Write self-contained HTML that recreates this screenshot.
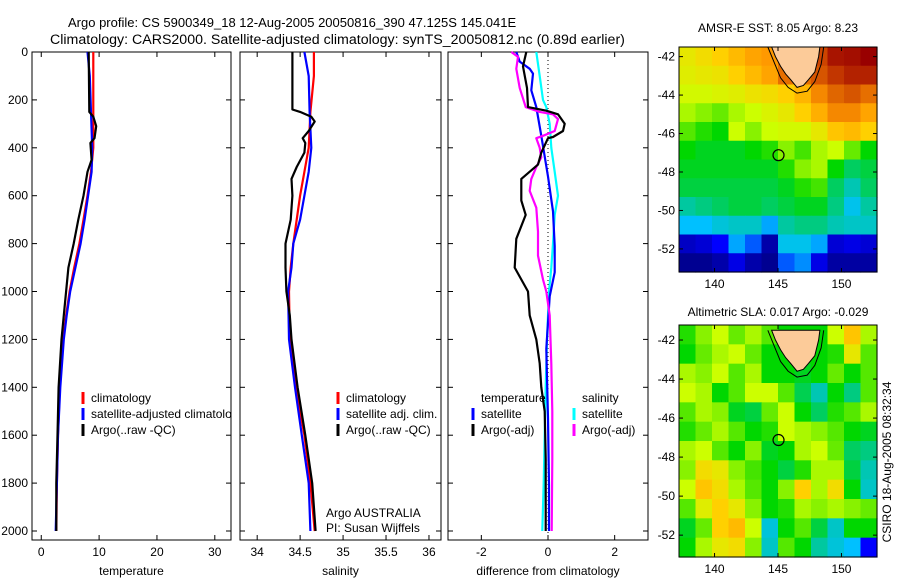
<!DOCTYPE html>
<html><head><meta charset="utf-8"><style>
html,body{margin:0;padding:0;background:#fff}
svg{display:block;font-family:"Liberation Sans",sans-serif}
</style></head><body>
<svg id="c" width="900" height="580" viewBox="0 0 900 580">
<defs><clipPath id="p1clip"><rect x="32" y="52" width="199" height="488"/></clipPath></defs>
<text x="68" y="27" font-size="13">Argo profile: CS 5900349_18 12-Aug-2005 20050816_390 47.125S 145.041E</text>
<text x="50" y="44" font-size="14.2">Climatology: CARS2000. Satellite-adjusted climatology: synTS_20050812.nc (0.89d earlier)</text>
<g id="g"></g>
</svg>
<script>
// ---------- data ----------
const tDepthClim=[0,100,400,500,600,700,800,900,1000,1100,1200,1400,1600,1800,2000];
const tClim=[9.0,9.0,9.0,8.6,8.0,7.3,6.6,5.7,4.9,4.3,3.8,3.2,2.9,2.7,2.6];
const tSat=[8.0,8.4,8.8,8.7,8.1,7.5,6.8,5.9,5.0,4.4,3.9,3.3,2.9,2.7,2.5];
const tDepthArgo=[0,250,270,310,360,380,450,500,600,700,800,900,1000,1100,1200,1400,1600,1800,2000];
const tArgo=[8.2,8.3,9.0,9.5,9.2,8.5,8.7,8.0,7.3,6.4,5.6,4.7,4.3,3.9,3.5,3.0,2.8,2.6,2.6];

const sDepth=[0,100,250,400,500,600,700,800,900,1000,1200,1400,1600,1800,2000];
const sClim=[34.66,34.66,34.62,34.6,34.55,34.5,34.46,34.42,34.39,34.37,34.38,34.45,34.55,34.62,34.67];
const sSat=[34.55,34.6,34.61,34.63,34.6,34.55,34.5,34.42,34.4,34.36,34.37,34.44,34.52,34.6,34.62];
const sDepthArgo=[0,240,250,270,290,330,360,380,420,480,530,600,700,800,900,1000,1100,1200,1400,1600,1800,2000];
const sArgo=[34.41,34.41,34.5,34.63,34.67,34.6,34.53,34.56,34.55,34.46,34.4,34.41,34.39,34.33,34.33,34.34,34.38,34.4,34.47,34.56,34.64,34.68];

const dTSatDepth=[0,40,70,90,160,230,350,520,665,810,920,1020,1240,1530,1810,2000];
const dTSat=[-0.95,-0.85,-0.55,-0.45,-0.5,-0.35,-0.2,0,0.15,0.2,0.2,0.05,-0.05,0,0.03,0.03];
const dSSatDepth=[0,100,200,230,300,400,500,600,680,800,900,1000,1200,1400,1600,1800,2000];
const dSSat=[-0.35,-0.25,-0.15,-0.05,0.05,0.1,0.2,0.3,0.2,0.15,0.1,0.03,-0.03,-0.07,-0.1,-0.13,-0.17];
const dSArgoDepth=[0,20,70,150,230,250,260,280,330,350,360,400,440,480,530,580,650,750,850,950,1000,1100,1300,1500,1700,2000];
const dSArgo=[-1.1,-0.9,-0.95,-0.85,-0.67,-0.25,0.15,0.3,0.2,-0.15,-0.35,-0.25,-0.2,-0.35,-0.5,-0.55,-0.35,-0.3,-0.3,-0.15,-0.05,0.05,0.1,0.13,0.13,0.11];
const dTArgoDepth=[0,60,150,230,245,260,300,330,355,360,420,470,530,620,680,780,900,1000,1100,1200,1300,1400,1500,1700,2000];
const dTArgo=[-0.65,-0.75,-0.63,-0.6,-0.05,0.3,0.5,0.45,0.15,0,-0.2,-0.3,-0.8,-0.8,-0.67,-0.95,-1.0,-0.6,-0.55,-0.35,-0.25,-0.2,-0.1,-0.07,-0.07];

const depthTicks=[0,200,400,600,800,1000,1200,1400,1600,1800,2000];
const tTicks=[0,10,20,30];
const sTicks=[34,34.5,35,35.5,36];
const dTicks=[-2,0,2];
const lonTicks=[140,145,150];
const latTicks=[-42,-44,-46,-48,-50,-52];
const argoLon=145.041, argoLat=-47.125;

const sstGrid=[
[.66,.68,.7,.74,.78,.8,.85,.85,.9,.97,.98,1],
[.65,.66,.67,.7,.74,.78,.85,.85,.88,.92,.95,.95],
[.63,.63,.64,.65,.67,.68,.7,.75,.82,.86,.88,.85],
[.6,.58,.56,.6,.62,.64,.66,.7,.76,.82,.82,.78],
[.55,.52,.5,.62,.58,.62,.63,.63,.66,.72,.74,.7],
[.5,.48,.48,.48,.5,.52,.58,.54,.6,.62,.56,.5],
[.48,.48,.48,.48,.48,.48,.52,.58,.6,.5,.44,.46],
[.46,.46,.46,.46,.46,.46,.48,.52,.54,.44,.38,.44],
[.4,.42,.44,.46,.46,.44,.46,.48,.48,.42,.32,.4],
[.3,.3,.34,.36,.36,.28,.4,.42,.42,.38,.36,.36],
[.08,.1,.15,.28,.22,.05,.32,.32,.28,.1,.12,.1],
[.02,.02,.05,.12,.05,.02,.22,.26,.12,.04,.04,.04]];
const slaGrid=[
[.52,.58,.62,.56,.6,.55,.5,.5,.5,.62,.72,.6],
[.5,.56,.6,.62,.56,.5,.5,.5,.5,.52,.66,.55],
[.6,.58,.62,.55,.6,.5,.5,.48,.5,.56,.5,.55],
[.62,.6,.5,.55,.62,.62,.55,.45,.38,.5,.42,.55],
[.55,.6,.58,.48,.46,.56,.62,.5,.44,.52,.55,.6],
[.52,.56,.6,.55,.5,.52,.62,.6,.58,.55,.5,.48],
[.6,.62,.55,.5,.58,.48,.5,.6,.62,.56,.44,.42],
[.58,.68,.66,.58,.54,.5,.46,.52,.6,.6,.46,.38],
[.62,.72,.68,.6,.55,.5,.58,.7,.6,.68,.5,.36],
[.55,.65,.7,.66,.58,.5,.52,.6,.58,.6,.58,.56],
[.48,.56,.7,.74,.62,.34,.5,.55,.46,.36,.5,.5],
[.5,.6,.66,.68,.58,.36,.55,.5,.4,.34,.3,.15]];

// ---------- helpers ----------
const NS="http://www.w3.org/2000/svg";
const G=document.getElementById('g');
function el(tag,attrs,parent,txt){const e=document.createElementNS(NS,tag);for(const k in attrs)e.setAttribute(k,attrs[k]);if(txt!==undefined)e.textContent=txt;(parent||G).appendChild(e);return e;}
function lin(d0,d1,r0,r1){return v=>r0+(v-d0)*(r1-r0)/(d1-d0);}
const TOP=52, BOT=540;
const yD=lin(0,2000,52,531);

function panel(name,x0,x1,dmin,dmax,ticks,xlabel,showY){
  const xs=lin(dmin,dmax,x0,x1);
  const g=el('g',{});
  
  
  const r=el('rect',{x:x0,y:TOP,width:x1-x0,height:BOT-TOP,fill:'none',stroke:'#000','stroke-width':1},g);
  
  
  depthTicks.forEach(d=>{
    const y=yD(d);
    el('line',{x1:x0,x2:x0+5,y1:y,y2:y,stroke:'#000'},g);
    el('line',{x1:x1,x2:x1-5,y1:y,y2:y,stroke:'#000'},g);
    if(showY){const t=el('text',{x:x0-4,y:y+4,'font-size':12,'text-anchor':'end'},g,String(d));
      
      }
  });
  ticks.forEach(v=>{
    const x=xs(v);
    el('line',{x1:x,x2:x,y1:TOP,y2:TOP+5,stroke:'#000'},g);
    el('line',{x1:x,x2:x,y1:BOT,y2:BOT-5,stroke:'#000'},g);
    const t=el('text',{x:x,y:BOT+16,'font-size':12,'text-anchor':'middle'},g,String(v));
    
    
  });
  const xl=el('text',{x:(x0+x1)/2,y:BOT+35,'font-size':12,'text-anchor':'middle'},g,xlabel);
  
  
  return xs;
}
function line(xs,depths,vals,color,name){
  const pts=depths.map((d,i)=>xs(vals[i]).toFixed(1)+','+yD(d).toFixed(1)).join(' ');
  const p=el('polyline',{points:pts,fill:'none',stroke:color,'stroke-width':2.2,'stroke-linejoin':'round'});
  
  
}
function legend(x,y,color,label,name,parent){
  const m=el('rect',{x:x-1.5,y:y-10,width:3,height:12,fill:color},parent);
  
  
  const t=el('text',{x:x+8,y:y,'font-size':12},parent||G,label);
  
  
}

// panel 1
const x1s=panel('temperature-panel',32,231,-1.6,32.8,tTicks,'temperature',true);
line(x1s,tDepthClim,tClim,'#ff0000','temp-climatology-line');
line(x1s,tDepthClim,tSat,'#0000ff','temp-satellite-line');
line(x1s,tDepthArgo,tArgo,'#000000','temp-argo-line');
const lg1=el('g',{'clip-path':'url(#p1clip)'});


legend(83,402,'#ff0000','climatology','legend-climatology',lg1);
legend(83,418,'#0000ff','satellite-adjusted climatology','legend-satellite',lg1);
legend(83,434,'#000000','Argo(..raw -QC)','legend-argo',lg1);

// panel 2
const x2s=panel('salinity-panel',240,441,33.8,36.14,sTicks,'salinity',false);
line(x2s,sDepth,sClim,'#ff0000','sal-climatology-line');
line(x2s,sDepth,sSat,'#0000ff','sal-satellite-line');
line(x2s,sDepthArgo,sArgo,'#000000','sal-argo-line');
legend(338,402,'#ff0000','climatology','legend-sal-climatology');
legend(338,418,'#0000ff','satellite adj. clim.','legend-sal-satellite');
legend(338,434,'#000000','Argo(..raw -QC)','legend-sal-argo');
const a1=el('text',{x:326,y:517,'font-size':12},G,'Argo AUSTRALIA');


const a2=el('text',{x:326,y:532,'font-size':12},G,'PI: Susan Wijffels');



// panel 3
const x3s=panel('difference-panel',448,648,-3,3,dTicks,'difference from climatology',false);
const zl=el('line',{x1:x3s(0),x2:x3s(0),y1:TOP,y2:BOT,stroke:'#000','stroke-dasharray':'1,3'});


line(x3s,dSSatDepth,dSSat,'#00ffff','diff-sal-satellite-line');
line(x3s,dTSatDepth,dTSat,'#0000ff','diff-temp-satellite-line');
line(x3s,dSArgoDepth,dSArgo,'#ff00ff','diff-sal-argo-line');
line(x3s,dTArgoDepth,dTArgo,'#000000','diff-temp-argo-line');
const lt=el('text',{x:481,y:402,'font-size':12},G,'temperature');


const ls=el('text',{x:582,y:402,'font-size':12},G,'salinity');


legend(473,418,'#0000ff','satellite','legend-diff-temp-satellite');
legend(473,434,'#000000','Argo(-adj)','legend-diff-temp-argo');
legend(574,418,'#00ffff','satellite','legend-diff-sal-satellite');
legend(574,434,'#ff00ff','Argo(-adj)','legend-diff-sal-argo');

// ---------- maps ----------
const cstops=[[0,[0,0,128]],[.15,[0,0,255]],[.3,[0,192,255]],[.4,[0,200,160]],[.5,[0,215,0]],[.62,[204,255,0]],[.7,[255,208,0]],[.8,[255,153,0]],[.9,[204,68,0]],[1,[153,0,0]]];
function cmap(v){v=Math.max(0,Math.min(1,v));for(let i=1;i<cstops.length;i++){if(v<=cstops[i][0]){const a=cstops[i-1],b=cstops[i];const f=(v-a[0])/(b[0]-a[0]);const c=a[1].map((x,k)=>Math.round(x+(b[1][k]-x)*f));return 'rgb('+c.join(',')+')';}}return 'rgb(153,0,0)';}
const tasLon=[144.5,144.8,145.2,145.6,146.0,146.5,147.0,147.4,147.9,148.2,148.3];
const tasLat=[-41.5,-42.0,-42.5,-42.9,-43.2,-43.6,-43.5,-43.2,-42.8,-42.0,-41.5];
const shelfLon=[144.2,144.7,145.2,145.8,146.5,147.3,147.9,148.4,148.6];
const shelfLat=[-41.5,-42.3,-43.1,-43.6,-43.9,-43.8,-43.3,-42.4,-41.5];
function map(name,x0,x1,y0,y1,lat0,lat1,grid,title,ty){
  const xs=lin(137.2,152.8,x0,x1), ys=lin(lat0,lat1,y0,y1);
  const g=el('g',{});
  
  
  const nr=grid.length,nc=grid[0].length;
  const dlon=(152.8-137.2)/nc, dlat=(lat1-lat0)/nr;
  grid.forEach((row,r)=>row.forEach((v,c)=>{
    const xa=xs(137.2+c*dlon), xb=xs(137.2+(c+1)*dlon), ya=ys(lat0+r*dlat), yb=ys(lat0+(r+1)*dlat);
    const cell=el('rect',{x:xa,y:ya,width:xb-xa+0.6,height:yb-ya+0.6,fill:cmap(v)},g);
    
    
  }));
  const sh=el('polyline',{points:shelfLon.map((l,i)=>xs(l)+','+ys(shelfLat[i])).join(' '),fill:'none',stroke:'#000','stroke-width':1},g);
  
  
  const land=el('polygon',{points:tasLon.map((l,i)=>xs(l)+','+ys(tasLat[i])).join(' '),fill:'#fccb99',stroke:'#000','stroke-width':1},g);
  
  
  const fr=el('rect',{x:x0,y:y0,width:x1-x0,height:y1-y0,fill:'none',stroke:'#000'},g);
  
  
  lonTicks.forEach(l=>{const x=xs(l);
    el('line',{x1:x,x2:x,y1:y0,y2:y0+4,stroke:'#000'},g);el('line',{x1:x,x2:x,y1:y1,y2:y1-4,stroke:'#000'},g);
    const t=el('text',{x:x,y:y1+16,'font-size':12,'text-anchor':'middle'},g,String(l));
    
    });
  latTicks.forEach(l=>{const y=ys(l);
    el('line',{x1:x0,x2:x0+4,y1:y,y2:y,stroke:'#000'},g);el('line',{x1:x1,x2:x1-4,y1:y,y2:y,stroke:'#000'},g);
    const t=el('text',{x:x0-4,y:y+4,'font-size':12,'text-anchor':'end'},g,String(l));
    
    });
  const c=el('circle',{cx:xs(argoLon),cy:ys(argoLat),r:5.5,fill:'none',stroke:'#000','stroke-width':1.2},g);
  
  
  const tt=el('text',{x:(x0+x1)/2,y:ty,'font-size':12,'text-anchor':'middle'},g,title);
  
  
}
map('sst-map',679,877,47,272,-41.5,-53.2,sstGrid,'AMSR-E SST: 8.05 Argo: 8.23',32);
map('sla-map',679,877,325,557,-41.23,-53.12,slaGrid,'Altimetric SLA: 0.017 Argo: -0.029',316);
const cs=el('text',{x:0,y:0,'font-size':12,'text-anchor':'middle',transform:'translate(891,462) rotate(-90)'},G,'CSIRO 18-Aug-2005 08:32:34');


</script>
</body></html>
